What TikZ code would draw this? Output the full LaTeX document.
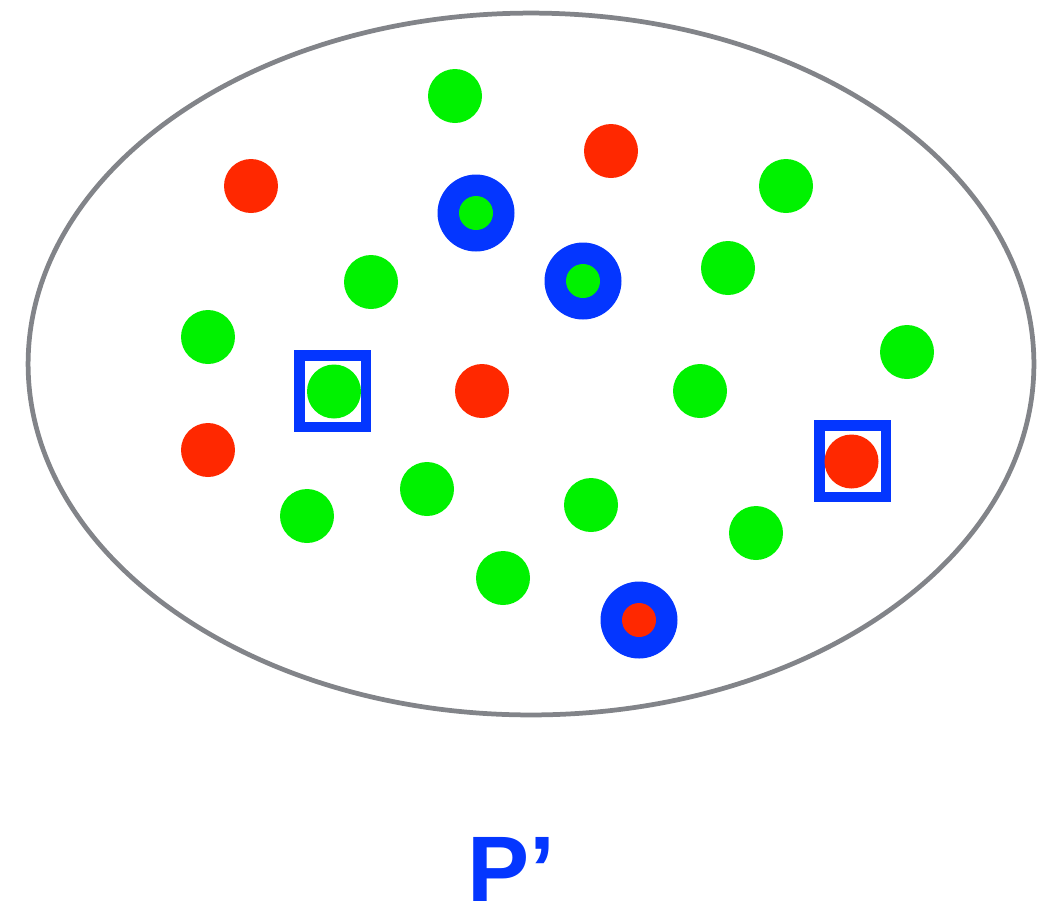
\documentclass[tikz,border=0pt]{standalone}
\usepackage{fontspec}
\setsansfont{Liberation Sans}
\usetikzlibrary{shapes.geometric}
\definecolor{DotGreen}{RGB}{0,242,0}
\definecolor{DotRed}{RGB}{255,40,0}
\definecolor{MarkBlue}{RGB}{4,54,255}
\definecolor{RimGray}{RGB}{130,132,137}
\tikzset{
  rim/.style={ellipse,draw=RimGray,line width=0.095cm,minimum width=20.12cm,minimum height=14.04cm,inner sep=0pt},
  greendot/.style={circle,fill=DotGreen,minimum size=1.08cm,inner sep=0pt},
  reddot/.style={circle,fill=DotRed,minimum size=1.08cm,inner sep=0pt},
  ringdot/.style={circle,fill=MarkBlue,minimum size=1.54cm,inner sep=0pt},
  coredot/.style={circle,fill=#1,minimum size=0.68cm,inner sep=0pt},
  boxmark/.style={rectangle,draw=MarkBlue,line width=0.21cm,minimum width=1.33cm,minimum height=1.43cm,inner sep=0pt}
}
\begin{document}
\begin{tikzpicture}[x=0.02cm,y=-0.02cm]
\useasboundingbox (0,0) rectangle (1053,904);
\node[rim] (set) at (531,364) {};
% plain dots
\foreach \n/\x/\y in {g1/455/96, g2/786/186, g3/371/282, g4/728/268, g5/208/337,
  g6/907/352, g7/700/391, g8/427/489, g9/307/516, g10/591/505, g11/756/533, g12/503/578}
  \node[greendot] (\n) at (\x,\y) {};
\foreach \n/\x/\y in {r1/251/186, r2/611/151, r3/482/391, r4/208/450}
  \node[reddot] (\n) at (\x,\y) {};
% boxed dots
\node[boxmark] (boxa) at (332.7,391) {};
\node[greendot] (g13) at (334,391.5) {};
\node[boxmark] (boxb) at (852.5,461) {};
\node[reddot] (r5) at (851.5,461.5) {};
% ringed dots
\node[ringdot] (ringa) at (476,213) {};
\node[coredot=DotGreen] (ca) at (ringa) {};
\node[ringdot] (ringb) at (583,281) {};
\node[coredot=DotGreen] (cb) at (ringb) {};
\node[ringdot] (ringc) at (639,620) {};
\node[coredot=DotRed] (cc) at (ringc) {};
\node[anchor=base,text=MarkBlue,font=\sffamily\bfseries\fontsize{53}{60}\selectfont,inner sep=0pt] (label) at (511,901) {P’};
\end{tikzpicture}
\end{document}
